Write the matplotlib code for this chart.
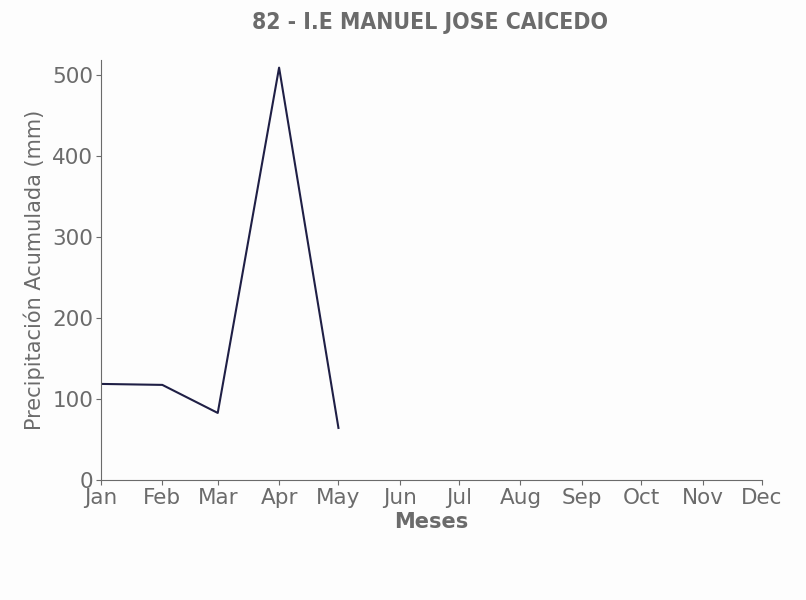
import pandas as pd
import matplotlib
matplotlib.use("Agg")
import matplotlib.pyplot as plt
import matplotlib.dates as mdates

# Monthly accumulated precipitation (only Jan-May available)
months = ["2023-01-01", "2023-02-01", "2023-03-01", "2023-04-01", "2023-05-01"]
precip = [118.5, 117.3, 82.7, 508.6, 64.2]
title = "82 - I.E MANUEL JOSE CAICEDO"

gray = "#6b6b6b"
dates = pd.to_datetime(months)

fig = plt.figure(figsize=(8.06, 6), dpi=100, facecolor="#fdfdfd")
ax = fig.add_axes([0.1253, 0.2, 0.82, 0.7], facecolor="#fdfdfd")
ax.plot(dates, precip, color="#1f1f45", linewidth=1.5)

ax.set_xlim(pd.Timestamp("2023-01-01"), pd.Timestamp("2023-12-01"))
ax.set_ylim(0, 518)
ax.xaxis.set_major_locator(mdates.MonthLocator())
ax.xaxis.set_major_formatter(mdates.DateFormatter("%b"))
ax.set_yticks([0, 100, 200, 300, 400, 500])

for s in ["top", "right"]:
    ax.spines[s].set_visible(False)
for s in ["left", "bottom"]:
    ax.spines[s].set_color(gray)
ax.tick_params(colors=gray, labelsize=15.5, labelcolor=gray, pad=2)

ax.set_xlabel("Meses", fontsize=15, fontweight="bold", color=gray, labelpad=3)
ax.set_ylabel("Precipitación Acumulada (mm)", fontsize=15, color=gray, labelpad=5)
fig.text(0.534, 0.963, title, ha="center", va="center", fontsize=16.5,
         fontweight="bold", color=gray, fontstretch="condensed")

fig.savefig("out.png", dpi=100, facecolor=fig.get_facecolor())
